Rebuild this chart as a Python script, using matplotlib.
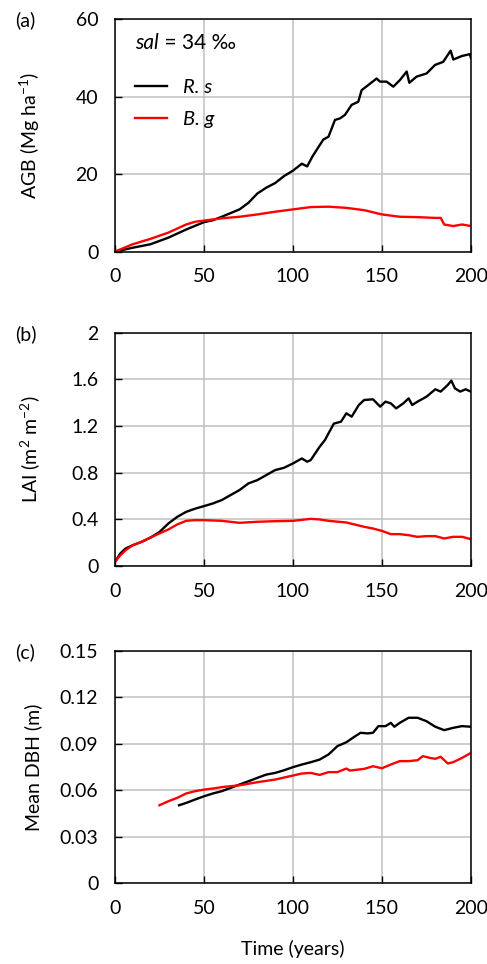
import matplotlib.pyplot as plt
from matplotlib.ticker import FixedLocator, FuncFormatter

plt.rcParams['font.family'] = ['Lato', 'DejaVu Sans']
plt.rcParams['font.size'] = 14
plt.rcParams['mathtext.fontset'] = 'custom'
plt.rcParams['mathtext.rm'] = 'Lato'
plt.rcParams['mathtext.it'] = 'Lato:italic'

# (a) above-ground biomass
agb_rs_t = [0, 10, 20, 30, 40, 50, 55, 60, 70, 75, 80, 85, 90, 95, 100, 105, 108, 111,
            117, 120, 123.6, 126.4, 129.2, 133, 136.7, 138.6, 142.3, 147, 148.9, 152.6,
            156.4, 160.1, 163.9, 165.4, 169.5, 175.1, 179.8, 184.4, 188.6, 190.1, 194.8,
            199.4, 200]
agb_rs = [0, 1.0, 1.9, 3.6, 5.7, 7.6, 8.1, 9.0, 10.9, 12.6, 15.0, 16.5, 17.7, 19.5, 20.9,
          22.7, 22.0, 24.6, 28.9, 29.7, 34.0, 34.4, 35.3, 37.9, 38.7, 41.7, 43.0, 44.7,
          43.9, 43.9, 42.6, 44.3, 46.5, 43.6, 45.2, 46.0, 48.2, 49.0, 51.9, 49.6, 50.5,
          51.0, 50.0]
agb_bg_t = [0, 10, 20, 30, 40, 45, 50, 60, 70, 80, 90, 100, 110, 120, 130, 140, 150, 160,
            170, 180, 183, 185, 190, 195, 200]
agb_bg = [0, 1.9, 3.3, 4.9, 7.0, 7.7, 8.0, 8.6, 9.0, 9.6, 10.3, 10.9, 11.5, 11.6, 11.3,
          10.7, 9.6, 9.0, 8.9, 8.7, 8.7, 7.0, 6.6, 7.0, 6.6]

# (b) leaf area index
lai_rs_t = [0, 3, 6, 10, 15, 20, 25, 30, 35, 40, 45, 50, 55, 60, 65, 70, 75, 80, 85, 90,
            95, 100, 105, 108, 110, 115, 118, 120, 123, 127, 130, 133, 137, 140, 145, 149,
            152, 155, 158, 162, 165, 167, 170, 175, 180, 183, 187, 189, 191, 194, 197, 200]
lai_rs = [0.034, 0.106, 0.149, 0.177, 0.206, 0.243, 0.29, 0.363, 0.42, 0.463, 0.49,
          0.512, 0.535, 0.564, 0.607, 0.65, 0.707, 0.735, 0.778, 0.821, 0.841, 0.878,
          0.921, 0.893, 0.907, 1.021, 1.079, 1.136, 1.22, 1.236, 1.308, 1.279, 1.379,
          1.422, 1.428, 1.365, 1.408, 1.393, 1.35, 1.393, 1.436, 1.379, 1.408, 1.45,
          1.514, 1.494, 1.551, 1.588, 1.522, 1.494, 1.514, 1.494]
lai_bg_t = [0, 3, 6, 10, 15, 20, 25, 30, 35, 40, 45, 50, 60, 70, 80, 90, 100, 110, 115,
            120, 130, 140, 145, 150, 155, 160, 165, 170, 175, 180, 185, 190, 195, 200]
lai_bg = [0.034, 0.09, 0.134, 0.177, 0.206, 0.243, 0.278, 0.312, 0.355, 0.386, 0.392,
          0.392, 0.386, 0.369, 0.378, 0.383, 0.386, 0.403, 0.398, 0.386, 0.372, 0.335,
          0.32, 0.3, 0.272, 0.272, 0.263, 0.249, 0.255, 0.255, 0.235, 0.249, 0.249, 0.229]

# (c) mean DBH
dbh_rs_t = [36, 40, 45, 50, 55, 60, 65, 70, 75, 80, 85, 90, 95, 100, 105, 110, 115, 120,
            125, 130, 135, 138, 142, 145, 148, 152, 155, 157, 160, 165, 170, 175, 180,
            185, 190, 195, 200]
dbh_rs = [0.0502, 0.0517, 0.0539, 0.056, 0.0578, 0.0593, 0.0614, 0.0636, 0.0657, 0.0679,
          0.07, 0.0711, 0.0728, 0.0748, 0.0765, 0.078, 0.0797, 0.083, 0.0884, 0.0909,
          0.0948, 0.097, 0.0966, 0.097, 0.1013, 0.1013, 0.1034, 0.1009, 0.1034, 0.1067,
          0.1067, 0.1045, 0.1009, 0.0987, 0.1002, 0.1013, 0.1009]
dbh_bg_t = [25, 30, 35, 40, 45, 50, 55, 60, 70, 80, 90, 100, 105, 110, 115, 120, 125, 130,
            132, 140, 145, 150, 155, 160, 165, 170, 173, 177, 180, 183, 187, 190, 195, 200]
dbh_bg = [0.0502, 0.0528, 0.055, 0.0578, 0.0593, 0.0603, 0.061, 0.0619, 0.0631, 0.0651,
          0.0668, 0.0694, 0.0707, 0.0711, 0.0698, 0.0716, 0.0716, 0.0739, 0.0726, 0.0737,
          0.0754, 0.0741, 0.0765, 0.0787, 0.0787, 0.0793, 0.0819, 0.0808, 0.0802, 0.0815,
          0.0772, 0.078, 0.0808, 0.084]

panel_tags = ['(a)', '(b)', '(c)']
y_labels = ['AGB (Mg ha$^{-1}$)', 'LAI (m$^{2}$ m$^{-2}$)', 'Mean DBH (m)']
y_ticks = [[0, 20, 40, 60], [0, 0.4, 0.8, 1.2, 1.6, 2], [0, 0.03, 0.06, 0.09, 0.12, 0.15]]
x_ticks = [0, 50, 100, 150, 200]
series = [
    (agb_rs_t, agb_rs, agb_bg_t, agb_bg),
    (lai_rs_t, lai_rs, lai_bg_t, lai_bg),
    (dbh_rs_t, dbh_rs, dbh_bg_t, dbh_bg),
]

fig = plt.figure(figsize=(4.87, 9.64), dpi=100)
boxes = [(0.236, 0.739, 0.731, 0.241),
         (0.236, 0.413, 0.731, 0.242),
         (0.236, 0.084, 0.731, 0.241)]

for i, box in enumerate(boxes):
    ax = fig.add_axes(box)
    rs_t, rs, bg_t, bg = series[i]
    ax.plot(rs_t, rs, color='black', lw=1.7, label='R. s')
    ax.plot(bg_t, bg, color='red', lw=1.7, label='B. g')
    ax.set_xlim(0, 200)
    ax.set_ylim(y_ticks[i][0], y_ticks[i][-1])
    ax.xaxis.set_major_locator(FixedLocator(x_ticks))
    ax.yaxis.set_major_locator(FixedLocator(y_ticks[i]))
    ax.yaxis.set_major_formatter(FuncFormatter(lambda v, p: f'{v:g}'))
    ax.grid(True, color='#c0c0c0', lw=1.1)
    ax.set_axisbelow(True)
    ax.tick_params(direction='in', length=5, width=1, top=False, right=False)
    ax.tick_params(axis='x', pad=12)
    ax.tick_params(axis='y', pad=12)
    for s in ax.spines.values():
        s.set_linewidth(1.1)
    ax.set_ylabel(y_labels[i])
    ax.yaxis.set_label_coords(-0.205, 0.5)
    ax.text(-0.28, 0.995, panel_tags[i], transform=ax.transAxes, ha='left', va='center')
    if i == 0:
        t1 = ax.text(0.056, 0.897, 'sal', style='italic', transform=ax.transAxes,
                     ha='left', va='center', fontsize=15)
        ax.annotate(' = 34 ‰', xy=(1, 0), xycoords=t1, va='bottom', ha='left', fontsize=15)
        leg = ax.legend(loc='upper left', bbox_to_anchor=(0.045, 0.76), frameon=False,
                        handlelength=1.6, handletextpad=0.8, labelspacing=0.75,
                        borderaxespad=0, borderpad=0.2,
                        prop={'style': 'italic', 'size': 14.5})
    if i == 2:
        ax.set_xlabel('Time (years)')
        ax.xaxis.set_label_coords(0.5, -0.245)

fig.savefig('out.png', dpi=100)
